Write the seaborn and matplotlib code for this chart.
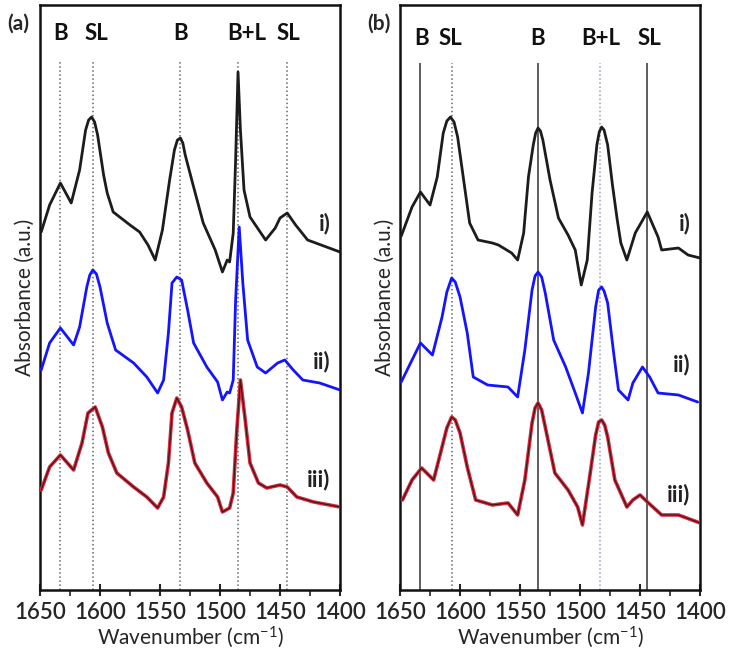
import numpy as np
import pandas as pd
import matplotlib.pyplot as plt
import seaborn as sns

# ---------------------------------------
# Data (stacked spectra, arbitrary units)
# ---------------------------------------
# panel (a)
a_i_wn = [1649, 1642, 1633, 1624, 1617, 1612, 1609.5, 1607, 1604.5, 1602, 1597, 1594, 1589, 1575,
          1567, 1560, 1554, 1548, 1542, 1538, 1535.5, 1533, 1531, 1529, 1522, 1514, 1504, 1498,
          1494, 1492, 1489, 1487, 1485, 1483, 1480, 1475, 1462, 1454, 1450, 1444, 1437, 1427, 1400]
a_i_abs = [3.58, 3.85, 4.07, 3.87, 4.20, 4.60, 4.70, 4.73, 4.68, 4.55, 4.15, 3.97, 3.78, 3.65,
           3.58, 3.45, 3.30, 3.60, 4.10, 4.40, 4.50, 4.52, 4.47, 4.35, 4.03, 3.67, 3.40, 3.18,
           3.30, 3.28, 3.57, 4.30, 5.18, 4.60, 4.00, 3.73, 3.50, 3.62, 3.72, 3.77, 3.65, 3.50, 3.38]

a_ii_wn = [1649, 1642, 1633, 1622, 1617, 1611, 1608.5, 1606, 1603, 1600, 1594, 1587, 1572, 1561,
           1552, 1547, 1543, 1540, 1536, 1532, 1527, 1522, 1511, 1502, 1498, 1494, 1492, 1489,
           1487, 1484, 1481, 1477, 1469, 1462, 1452, 1446, 1439, 1431, 1417, 1400]
a_ii_abs = [2.20, 2.47, 2.62, 2.45, 2.63, 3.03, 3.15, 3.20, 3.16, 3.03, 2.67, 2.40, 2.27, 2.13,
            1.97, 2.10, 2.57, 3.07, 3.13, 3.10, 2.80, 2.47, 2.23, 2.08, 1.90, 1.98, 1.97, 2.10,
            2.90, 3.63, 3.07, 2.50, 2.23, 2.17, 2.27, 2.30, 2.20, 2.10, 2.07, 2.00]

a_iii_wn = [1649, 1642, 1633, 1622, 1615, 1610, 1604, 1598, 1593, 1586, 1572, 1561, 1552, 1547,
            1543, 1540, 1536, 1532, 1527, 1521, 1511, 1502, 1498, 1492, 1489, 1486, 1483, 1479,
            1475, 1468, 1461, 1450, 1444, 1436, 1422, 1400]
a_iii_abs = [1.00, 1.23, 1.35, 1.20, 1.47, 1.77, 1.83, 1.63, 1.37, 1.17, 1.03, 0.93, 0.82, 0.93,
             1.27, 1.77, 1.92, 1.83, 1.60, 1.27, 1.07, 0.93, 0.78, 0.82, 0.97, 1.60, 2.10, 1.70,
             1.27, 1.07, 1.02, 1.05, 1.03, 0.93, 0.88, 0.83]

# panel (b)
b_i_wn = [1649, 1640, 1633, 1625, 1619, 1614, 1611, 1608, 1605, 1602, 1597, 1592, 1585, 1573,
          1568, 1557, 1552, 1547, 1543, 1539, 1537, 1535, 1533, 1531, 1525, 1518, 1510, 1504,
          1499, 1494, 1490, 1486, 1484, 1482, 1480, 1477, 1473, 1469, 1466, 1461, 1454, 1444,
          1435, 1432, 1418, 1410, 1400]
b_i_abs = [3.54, 3.83, 3.98, 3.85, 4.13, 4.57, 4.69, 4.73, 4.68, 4.53, 4.10, 3.67, 3.50, 3.47,
           3.45, 3.37, 3.30, 3.57, 4.13, 4.45, 4.57, 4.62, 4.59, 4.50, 4.10, 3.72, 3.55, 3.40,
           3.05, 3.30, 3.97, 4.45, 4.58, 4.63, 4.60, 4.45, 4.05, 3.70, 3.47, 3.30, 3.57, 3.78,
           3.53, 3.40, 3.42, 3.35, 3.32]

b_ii_wn = [1649, 1640, 1633, 1623, 1615, 1611, 1607, 1604, 1600, 1594, 1589, 1577, 1560, 1552,
           1546, 1540, 1537.5, 1535, 1532, 1529, 1522, 1512, 1504, 1498, 1493, 1487, 1484.5, 1482,
           1480, 1477, 1472, 1468, 1460, 1456, 1448, 1442, 1435, 1418, 1402]
b_ii_abs = [2.08, 2.30, 2.47, 2.35, 2.73, 2.98, 3.12, 3.08, 2.93, 2.57, 2.13, 2.05, 2.03, 1.93,
            2.40, 3.00, 3.14, 3.18, 3.13, 2.97, 2.50, 2.23, 1.97, 1.77, 2.17, 2.83, 3.00, 3.03,
            2.99, 2.87, 2.37, 2.00, 1.90, 2.07, 2.23, 2.13, 1.97, 1.95, 1.88]

b_iii_wn = [1648, 1640, 1632, 1622, 1615, 1611, 1607, 1604, 1600, 1594, 1587, 1573, 1560, 1552,
            1546, 1540, 1537.5, 1535, 1532, 1529, 1521, 1510, 1502, 1498, 1492, 1487, 1484.5,
            1482, 1479.5, 1477, 1471, 1461, 1456, 1450, 1443, 1432, 1418, 1400]
b_iii_abs = [0.90, 1.10, 1.22, 1.10, 1.43, 1.62, 1.73, 1.70, 1.57, 1.23, 0.90, 0.85, 0.87, 0.75,
             1.10, 1.67, 1.82, 1.87, 1.80, 1.63, 1.17, 1.00, 0.83, 0.65, 1.13, 1.55, 1.68,
             1.70, 1.65, 1.53, 1.10, 0.83, 0.90, 0.95, 0.87, 0.75, 0.75, 0.67]

# band markers
a_band_wn = [1633, 1606, 1533, 1485, 1444]
b_band_wn = [1633, 1607, 1535, 1483, 1444]
band_names = ["B", "SL", "B", "B+L", "SL"]
a_name_wn = [1633, 1603, 1533, 1478, 1443]
b_name_wn = [1632, 1608, 1535, 1483, 1442]
trace_names = ["i)", "ii)", "iii)"]
xticks = [1650, 1600, 1550, 1500, 1450, 1400]

# ---------------------------------------
# Plot
# ---------------------------------------
sns.set_theme(style="ticks")
plt.rcParams['font.family'] = ['Lato', 'DejaVu Sans']
plt.rcParams['font.weight'] = 'semibold'
plt.rcParams['mathtext.default'] = 'regular'

fig = plt.figure(figsize=(7.3, 6.62), dpi=100)
ax_a = fig.add_axes([0.0548, 0.1088, 0.411, 0.8836])
ax_b = fig.add_axes([0.548, 0.1088, 0.411, 0.8836])

colors = ["#1c1c1c", "#1414ff", "#e0263c"]

panels = [
    (ax_a, [(a_i_wn, a_i_abs), (a_ii_wn, a_ii_abs), (a_iii_wn, a_iii_abs)],
     a_band_wn, a_name_wn, [':'] * 5, ['#666666'] * 5, 5.30, 5.57, [3.67, 2.28, 1.10]),
    (ax_b, [(b_i_wn, b_i_abs), (b_ii_wn, b_ii_abs), (b_iii_wn, b_iii_abs)],
     b_band_wn, b_name_wn, ['-', ':', '-', ':', '-'],
     ['#333333', '#666666', '#333333', '#9a9ab8', '#333333'], 5.27, 5.52, [3.67, 2.25, 0.95]),
]

for ax, traces, bands, names_wn, lstyles, lcolors, vtop, ytxt, ylab in panels:
    for wn, ls, lc in zip(bands, lstyles, lcolors):
        ax.vlines(wn, 0, vtop, colors=lc, linestyles=ls, linewidth=1.1, zorder=1)
    for k, (wn, ab) in enumerate(traces):
        df = pd.DataFrame({"wn": wn, "abs": ab})
        if k == 2:
            sns.lineplot(data=df, x="wn", y="abs", sort=False, ax=ax, color=colors[2],
                         linewidth=2.6, zorder=3, solid_joinstyle="round")
            sns.lineplot(data=df, x="wn", y="abs", sort=False, ax=ax, color="#3a1a1a",
                         linewidth=0.9, zorder=4, solid_joinstyle="round")
        else:
            sns.lineplot(data=df, x="wn", y="abs", sort=False, ax=ax, color=colors[k],
                         linewidth=2.0, zorder=3, solid_joinstyle="round")
        ax.text(1408, ylab[k], trace_names[k], fontsize=16, fontweight="bold",
                ha="right", va="center", color="#222222")
    for wn, name in zip(names_wn, band_names):
        ax.text(wn, ytxt, name, fontsize=16, fontweight="bold", ha="center", va="center",
                color="#111111")

    ax.set_xlim(1650, 1400)
    ax.set_ylim(0, 5.85)
    ax.set_xticks(xticks)
    ax.set_xticks(np.arange(1400, 1651, 25), minor=True)
    ax.set_yticks([])
    ax.tick_params(axis="x", which="major", direction="inout", length=9, width=1.5,
                   labelsize=16, pad=4)
    ax.tick_params(axis="x", which="minor", direction="out", length=4, width=1.2)
    for sp in ax.spines.values():
        sp.set_linewidth(1.8)
        sp.set_color("#111111")
    ax.set_xlabel("Wavenumber (cm$^{-1}$)", fontsize=15, labelpad=1)
    ax.set_ylabel("Absorbance (a.u.)", fontsize=15, labelpad=4)

fig.text(0.025, 0.964, "(a)", fontsize=15, fontweight="bold", ha="center", va="center")
fig.text(0.519, 0.964, "(b)", fontsize=15, fontweight="bold", ha="center", va="center")

plt.savefig("out.png", dpi=100)
